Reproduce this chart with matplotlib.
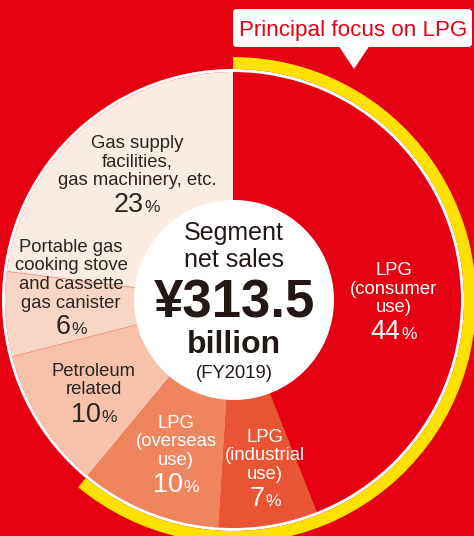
import matplotlib
matplotlib.use('Agg')
import numpy as np
import matplotlib.pyplot as plt
from matplotlib.patches import Wedge, Circle, FancyBboxPatch, Polygon

# segment shares, FY2019 (clockwise from 12 o'clock)
segments = ['LPG (consumer use)', 'LPG (industrial use)', 'LPG (overseas use)',
            'Petroleum related', 'Portable gas cooking stove and cassette gas canister',
            'Gas supply facilities, gas machinery, etc.']
shares = [44, 7, 10, 10, 6, 23]
label_lines = [['LPG', '(consumer', 'use)'],
               ['LPG', '(industrial', 'use)'],
               ['LPG', '(overseas', 'use)'],
               ['Petroleum', 'related'],
               ['Portable gas', 'cooking stove', 'and cassette', 'gas canister'],
               ['Gas supply', 'facilities,', 'gas machinery, etc.']]
lpg_segments = 3
total_sales = '¥313.5'
fiscal_year = '(FY2019)'

colors = ['#E50012', '#E95532', '#EF855E', '#F6C3AA', '#F9D6C4', '#FBECE3']
text_colors = ['white', 'white', 'white', '#2b2421', '#2b2421', '#2b2421']
# label anchor (x, first baseline) in pixels from top-left
label_pos = [(394, 275), (265, 442), (176, 428), (94, 376), (71, 252), (137, 148)]

W, H = 474, 536
RED = '#E50012'
DARK = '#231815'
FONT = 'Liberation Sans'
cx, cy = 233, H - 300
R = 228

fig = plt.figure(figsize=(W / 100, H / 100), dpi=100, facecolor=RED)
ax = fig.add_axes([0, 0, 1, 1])
ax.set_facecolor(RED)

ax.pie(shares, colors=colors, startangle=90, counterclock=False, radius=R,
       center=(cx, cy), wedgeprops=dict(linewidth=0))

# faint dividers between the light slices
bounds = np.cumsum(shares)
for b in bounds[3:5]:
    a = np.deg2rad(90 - b / 100 * 360)
    ax.plot([cx + 100 * np.cos(a), cx + R * np.cos(a)],
            [cy + 100 * np.sin(a), cy + R * np.sin(a)],
            color='#F29E86', lw=0.6, zorder=3)

# white rim and yellow arc over the LPG business
ax.add_patch(Circle((cx, cy), R + 1.5, fill=False, ec='white', lw=2.2, zorder=4))
lpg_end = 90 - sum(shares[:lpg_segments]) / 100 * 360
ax.add_patch(Wedge((cx, cy), 243, lpg_end, 90, width=12, fc='#FFE100', ec='none', zorder=4))

# center circle
ax.add_patch(Circle((234, H - 300), 100, fc='white', ec='none', zorder=5))


def txt(x, y, s, size, color, weight='normal'):
    return ax.text(x, H - y, s, fontsize=size, color=color, ha='center', va='baseline',
                   family=FONT, fontweight=weight, zorder=6)


renderer = fig.canvas.get_renderer()


def pct(x, y, value, color):
    t1 = ax.text(0, H - y, str(value), fontsize=19.4, color=color, ha='left',
                 va='baseline', family=FONT, zorder=6)
    t2 = ax.text(0, H - y, '%', fontsize=12.5, color=color, ha='left',
                 va='baseline', family=FONT, zorder=6)
    w1 = t1.get_window_extent(renderer).width
    w2 = t2.get_window_extent(renderer).width
    left = x - (w1 + w2 + 1) / 2
    t1.set_x(left)
    t2.set_x(left + w1 + 1)


for lines, (x, y0), share, col in zip(label_lines, label_pos, shares, text_colors):
    for i, line in enumerate(lines):
        txt(x, y0 + i * 18.5, line, 13.3, col)
    pct(x, y0 + (len(lines) - 1) * 18.5 + 27, share, col)

# center text
txt(234, 240, 'Segment', 18, DARK)
txt(234, 267, 'net sales', 18, DARK)
txt(234, 318, total_sales, 38, DARK, 'bold')
txt(234, 353, 'billion', 23, DARK, 'bold')
txt(234, 378, fiscal_year, 13.3, DARK)

# callout
ax.add_patch(FancyBboxPatch((233, H - 47), 239, 38, boxstyle='round,pad=0,rounding_size=4',
                            fc='white', ec='none', zorder=7))
ax.add_patch(Polygon([(339, H - 46.5), (369, H - 46.5), (354, H - 69)],
                     closed=True, fc='white', ec='none', zorder=7))
ax.text(353, H - 36, 'Principal focus on LPG', fontsize=16.1, color=RED, ha='center',
        va='baseline', family=FONT, zorder=8)

ax.set_xlim(0, W)
ax.set_ylim(0, H)
ax.set_aspect('equal')
ax.axis('off')

fig.savefig('out.png', dpi=100, facecolor=RED)
